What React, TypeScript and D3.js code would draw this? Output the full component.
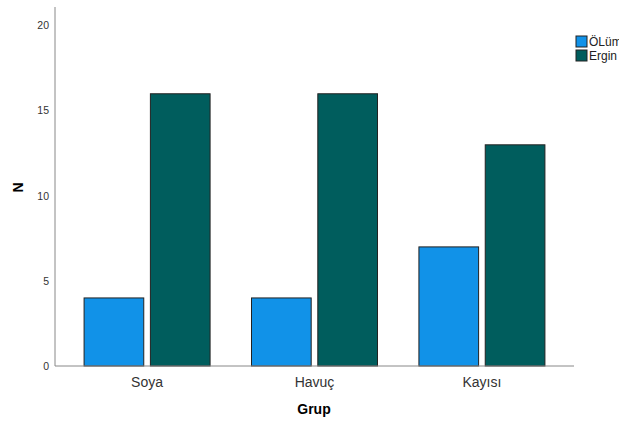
import React from "react";
import * as d3 from "d3";

const categories = ["Soya", "Havuç", "Kayısı"];
const series = ["ÖLüm", "Ergin"];
const olumValues = [4, 4, 7];
const erginValues = [16, 16, 13];
const yTicks = [0, 5, 10, 15, 20];
const colors = ["#1192e8", "#005d5d"];

const W = 619;
const H = 421;
const left = 55;
const right = 574;
const bottom = 366;
const top = 7;

export default function App() {
  const x = d3.scaleBand<string>().domain(categories).range([left, right]).paddingInner(0).paddingOuter(0.05);
  const y = d3.scaleLinear().domain([0, 21.1]).range([bottom, top]);
  const groupW = 126;
  const sub = d3.scaleBand<string>().domain(series).range([0, groupW]).paddingInner(0.1).paddingOuter(0);
  const vals = [olumValues, erginValues];
  const font = "Liberation Sans, Arial, sans-serif";
  return (
    <svg width={W} height={H} style={{ position: "absolute", left: 0, top: 0, background: "#fff" }} fontFamily={font}>
      <rect x={0} y={0} width={W} height={H} fill="#fff" />
      {categories.map((c, i) => {
        const cx = (x(c) as number) + x.bandwidth() / 2;
        return series.map((s, j) => {
          const v = vals[j][i];
          const bx = cx - groupW / 2 + (sub(s) as number);
          return (
            <rect key={c + s} x={bx} y={y(v)} width={sub.bandwidth()} height={y(0) - y(v)} fill={colors[j]} stroke="#222" strokeWidth={1} />
          );
        });
      })}
      <line x1={left} x2={left} y1={top} y2={bottom} stroke="#888" strokeWidth={1} />
      <line x1={left} x2={right} y1={bottom} y2={bottom} stroke="#888" strokeWidth={1} />
      {yTicks.map((t) => (
        <text key={t} x={49} y={y(t)} dy="0.35em" textAnchor="end" fontSize={10.5} fill="#333">{t}</text>
      ))}
      {categories.map((c) => (
        <text key={c} x={(x(c) as number) + x.bandwidth() / 2} y={387} textAnchor="middle" fontSize={14} fill="#333">{c}</text>
      ))}
      <text x={314} y={414} textAnchor="middle" fontSize={14} fontWeight="bold" fill="#000">Grup</text>
      <text transform={`translate(23,${y(10.5)}) rotate(-90)`} textAnchor="middle" fontSize={14} fontWeight="bold" fill="#000">N</text>
      {series.map((s, j) => (
        <g key={s} transform={`translate(576,${36 + j * 14})`}>
          <rect x={0} y={0} width={11} height={11} fill={colors[j]} stroke="#222" strokeWidth={1} />
          <text x={13} y={10} fontSize={12} fill="#222">{s}</text>
        </g>
      ))}
    </svg>
  );
}
